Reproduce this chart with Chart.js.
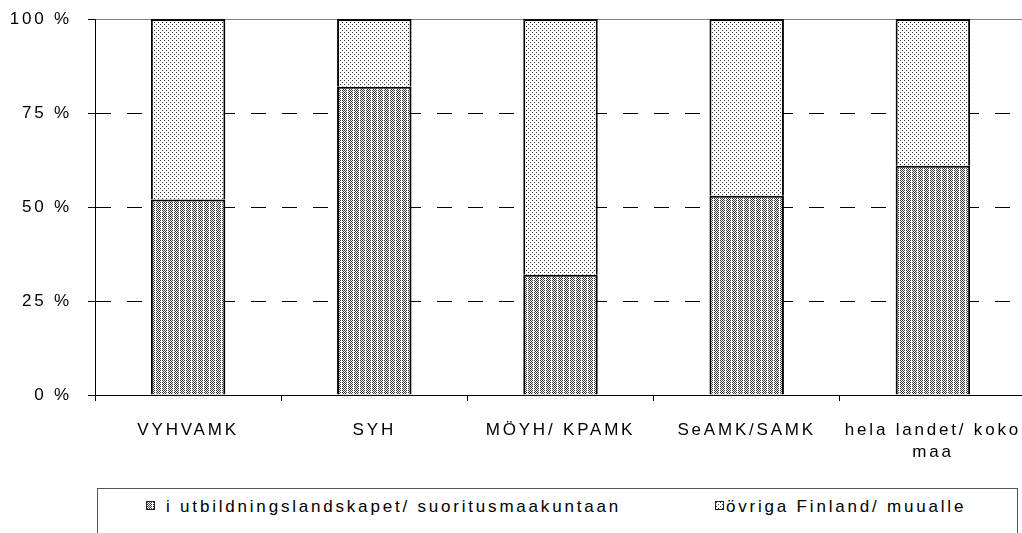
<!DOCTYPE html>
<html>
<head>
<meta charset="utf-8">
<script src="https://cdn.jsdelivr.net/npm/chart.js@4"></script>
<style>
  html, body { margin: 0; padding: 0; background: #fff; overflow: hidden; }
  #wrap { position: relative; width: 1022px; height: 533px; overflow: hidden; }
  #chart { position: absolute; left: 0; top: 0; }
  #legend {
    position: absolute; left: 97px; top: 488px; width: 919px; height: 60px;
    border: 1px solid #555;
    font: 17px "Liberation Sans", Arial, sans-serif; letter-spacing: 2.8px; color: #000;
  }
  .item { position: absolute; top: 8px; line-height: 19px; white-space: nowrap; }
  .sw { position: absolute; top: 12px; width: 7px; height: 7px; border: 1px solid #222; }
</style>
</head>
<body>
<div id="wrap">
  <canvas id="chart" width="1026" height="470"></canvas>
  <div id="legend">
    <div class="sw" id="sw0" style="left:48px"></div>
    <div class="item" style="left:68px" id="lab0"></div>
    <div class="sw" id="sw1" style="left:617px"></div>
    <div class="item" style="left:628px" id="lab1"></div>
  </div>
</div>
<script>
// data
const categories = ["VYHVAMK", "SYH", "MÖYH/ KPAMK", "SeAMK/SAMK", ["hela landet/ koko", "maa"]];
const seriesNames = ["i utbildningslandskapet/ suoritusmaakuntaan", "övriga Finland/ muualle"];
const inRegion = [52, 82, 32, 53, 61];
const elsewhere = [48, 18, 68, 47, 39];
const yTicks = [0, 25, 50, 75, 100];

const font = { family: "'Liberation Sans', Arial, sans-serif", size: 17, lineHeight: "22px" };
const spacing = "2.8px";

// small bitmap fills like the old excel hatches
function makeTile(rows, ink) {
  const c = document.createElement("canvas");
  c.width = rows[0].length;
  c.height = rows.length;
  const g = c.getContext("2d");
  g.fillStyle = "#fff";
  g.fillRect(0, 0, c.width, c.height);
  g.fillStyle = ink;
  rows.forEach((r, y) => {
    [...r].forEach((ch, x) => { if (ch === "#") g.fillRect(x, y, 1, 1); });
  });
  return c;
}

const denseTile = makeTile(["#.#.#.", ".#.#.."], "#333");
const sparseTile = makeTile(["#...", "....", "..#.", "...."], "#333");
const dense = denseTile.getContext("2d").createPattern(denseTile, "repeat");
const sparse = sparseTile.getContext("2d").createPattern(sparseTile, "repeat");

document.getElementById("sw0").style.background = `url(${denseTile.toDataURL()})`;
document.getElementById("sw1").style.background = `url(${sparseTile.toDataURL()})`;
document.getElementById("lab0").textContent = seriesNames[0];
document.getElementById("lab1").textContent = seriesNames[1];

const letterSpacing = {
  id: "letterSpacing",
  beforeUpdate(chart) { chart.ctx.letterSpacing = spacing; },
  beforeDraw(chart) { chart.ctx.letterSpacing = spacing; }
};

new Chart(document.getElementById("chart"), {
  type: "bar",
  data: {
    labels: categories,
    datasets: [
      {
        label: seriesNames[0],
        data: inRegion,
        backgroundColor: dense,
        borderColor: "#000",
        borderWidth: 2,
        barPercentage: 0.4,
        categoryPercentage: 1
      },
      {
        label: seriesNames[1],
        data: elsewhere,
        backgroundColor: sparse,
        borderColor: "#000",
        borderWidth: 2,
        barPercentage: 0.4,
        categoryPercentage: 1
      }
    ]
  },
  options: {
    responsive: false,
    animation: false,
    layout: { padding: { left: 9, top: 19, right: 0, bottom: 5 } },
    plugins: { legend: { display: false }, tooltip: { enabled: false } },
    scales: {
      x: {
        stacked: true,
        afterFit: (axis) => {
          axis.height = 70;
          axis.paddingLeft = 0;
          axis.paddingRight = 0;
        },
        grid: { drawOnChartArea: false, offset: true, tickLength: 6, color: "#000" },
        border: { color: "#000", width: 1 },
        ticks: { padding: 18, maxRotation: 0, autoSkip: false, color: "#000", font: font }
      },
      y: {
        stacked: true,
        min: 0,
        max: 100,
        afterBuildTicks: (axis) => { axis.ticks = yTicks.map((v) => ({ value: v })); },
        afterFit: (axis) => {
          axis.width = 86;
          axis.paddingTop = 0;
          axis.paddingBottom = 0;
        },
        ticks: { padding: 16, color: "#000", font: font, callback: (v) => v + " %" },
        grid: {
          tickLength: 7,
          tickColor: "#000",
          color: (ctx) => (ctx.tick && ctx.tick.value === 100 ? "#808080" : "#000")
        },
        border: {
          color: "#000",
          width: 1,
          dash: (ctx) => (ctx.tick && ctx.tick.value > 0 && ctx.tick.value < 100 ? [15, 16] : [])
        }
      }
    }
  },
  plugins: [letterSpacing]
});
</script>
</body>
</html>
